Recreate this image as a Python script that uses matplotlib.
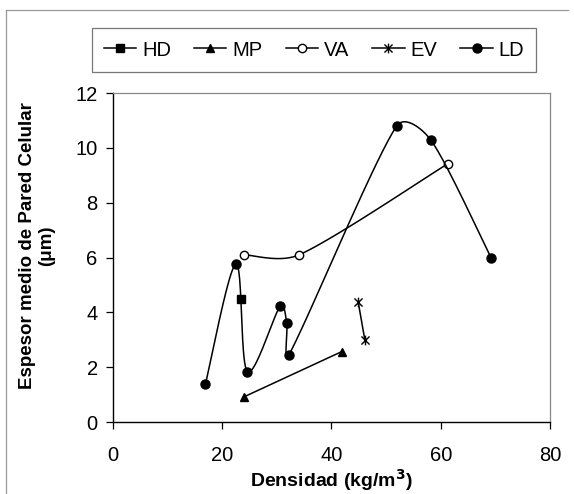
import numpy as np
import matplotlib
matplotlib.use("Agg")
import matplotlib.pyplot as plt
from matplotlib.path import Path
from matplotlib.lines import Line2D

plt.rcParams["font.family"] = ["Liberation Sans", "DejaVu Sans"]

# data (Densidad kg/m3, espesor um)
hd_x = [23.4]
hd_y = [4.50]
mp_x = [23.9, 41.9]
mp_y = [0.91, 2.57]
va_x = [23.9, 34.1, 61.3]
va_y = [6.10, 6.10, 9.42]
ev_x = [44.9, 46.1]
ev_y = [4.36, 3.00]
ld_x = [16.9, 22.5, 24.6, 30.6, 31.8, 32.2, 51.9, 58.2, 69.2]
ld_y = [1.37, 5.76, 1.84, 4.22, 3.61, 2.45, 10.79, 10.28, 6.00]

x_ticks = [0, 20, 40, 60, 80]
y_ticks = [0, 2, 4, 6, 8, 10, 12]

fig = plt.figure(figsize=(5.74, 4.94), dpi=100)
ax = fig.add_axes([113 / 574, 1 - 422 / 494, 437 / 574, 329 / 494])
ax.set_xlim(0, 80)
ax.set_ylim(0, 12)


def smooth(xs, ys, n=40, clamp=0.38):
    # excel-like smoothed line: bezier in screen space, handles limited
    # to a share of the segment length so short steps don't overshoot
    if len(xs) < 3:
        return xs, ys
    pts = ax.transData.transform(np.column_stack([xs, ys]))
    ext = np.vstack([pts[0], pts, pts[-1]])
    out = []
    t = np.linspace(0, 1, n)[:, None]
    for i in range(len(pts) - 1):
        p0, p3 = ext[i + 1], ext[i + 2]
        seg = np.hypot(*(p3 - p0))
        h1 = (ext[i + 2] - ext[i]) / 6
        h2 = (ext[i + 3] - ext[i + 1]) / 6
        for h in (h1, h2):
            L = np.hypot(*h)
            if L > clamp * seg:
                h *= clamp * seg / L
        c1 = p0 + h1
        c2 = p3 - h2
        b = ((1 - t) ** 3) * p0 + 3 * ((1 - t) ** 2) * t * c1 \
            + 3 * (1 - t) * t ** 2 * c2 + t ** 3 * p3
        out.append(b if i == 0 else b[1:])
    out = ax.transData.inverted().transform(np.vstack(out))
    return out[:, 0], out[:, 1]


star = Path([(-1, -1), (1, 1), (-1, 1), (1, -1), (0, -1.2), (0, 1.2)],
            [Path.MOVETO, Path.LINETO, Path.MOVETO, Path.LINETO,
             Path.MOVETO, Path.LINETO])

lw = 1.1
ax.plot(hd_x, hd_y, color="black", lw=lw, marker="s", ms=5.5)
ax.plot(mp_x, mp_y, color="black", lw=lw, marker="^", ms=6)
sx, sy = smooth(va_x, va_y)
ax.plot(sx, sy, color="black", lw=lw)
ax.plot(va_x, va_y, ls="none", marker="o", ms=6, mfc="white",
        mec="black", mew=1.0)
ax.plot(ev_x, ev_y, color="black", lw=lw, marker=star, ms=7, mew=1.0)
sx, sy = smooth(ld_x, ld_y)
ax.plot(sx, sy, color="black", lw=lw)
ax.plot(ld_x, ld_y, ls="none", marker="o", ms=6.5, color="black")

handles = [
    Line2D([], [], color="black", lw=lw, marker="s", ms=5.5),
    Line2D([], [], color="black", lw=lw, marker="^", ms=6),
    Line2D([], [], color="black", lw=lw, marker="o", ms=6, mfc="white"),
    Line2D([], [], color="black", lw=lw, marker=star, ms=7, mew=1.0),
    Line2D([], [], color="black", lw=lw, marker="o", ms=6.5),
]
leg = fig.legend(handles, ["HD", "MP", "VA", "EV", "LD"], ncol=5,
                 loc="center", bbox_to_anchor=(314 / 574, 1 - 50 / 494),
                 fontsize=14.5, frameon=True, fancybox=False,
                 handlelength=1.6, handletextpad=0.3, columnspacing=1.15,
                 borderpad=0.6, borderaxespad=0)
leg.get_frame().set_edgecolor("#555555")
leg.get_frame().set_linewidth(0.9)

ax.set_xticks(x_ticks)
ax.set_yticks(y_ticks)
ax.tick_params(direction="out", length=5, width=0.9, labelsize=14.5,
               colors="black", pad=6)
ax.tick_params(axis="x", pad=12)
for side in ["left", "bottom"]:
    ax.spines[side].set_color("black")
    ax.spines[side].set_linewidth(1.0)
for side in ["top", "right"]:
    ax.spines[side].set_color("#888888")
    ax.spines[side].set_linewidth(0.9)

ax.set_xlabel("Densidad (kg/m$^{\\mathbf{3}}$)", fontsize=14,
              fontweight="bold", labelpad=2)
fig.text(37 / 574, 1 - 246 / 494, "Espesor medio de Pared Celular\n(μm)",
         rotation=90, ha="center", va="center", multialignment="center",
         fontsize=13.5, fontweight="bold", linespacing=1.1)

# chart area border (top and left edges visible)
fig.add_artist(Line2D([6 / 574, 6 / 574], [0, 1 - 10 / 494],
                      transform=fig.transFigure, color="#999999", lw=0.9))
fig.add_artist(Line2D([6 / 574, 568 / 574], [1 - 10 / 494, 1 - 10 / 494],
                      transform=fig.transFigure, color="#999999", lw=0.9))

fig.savefig("out.png", dpi=100)
